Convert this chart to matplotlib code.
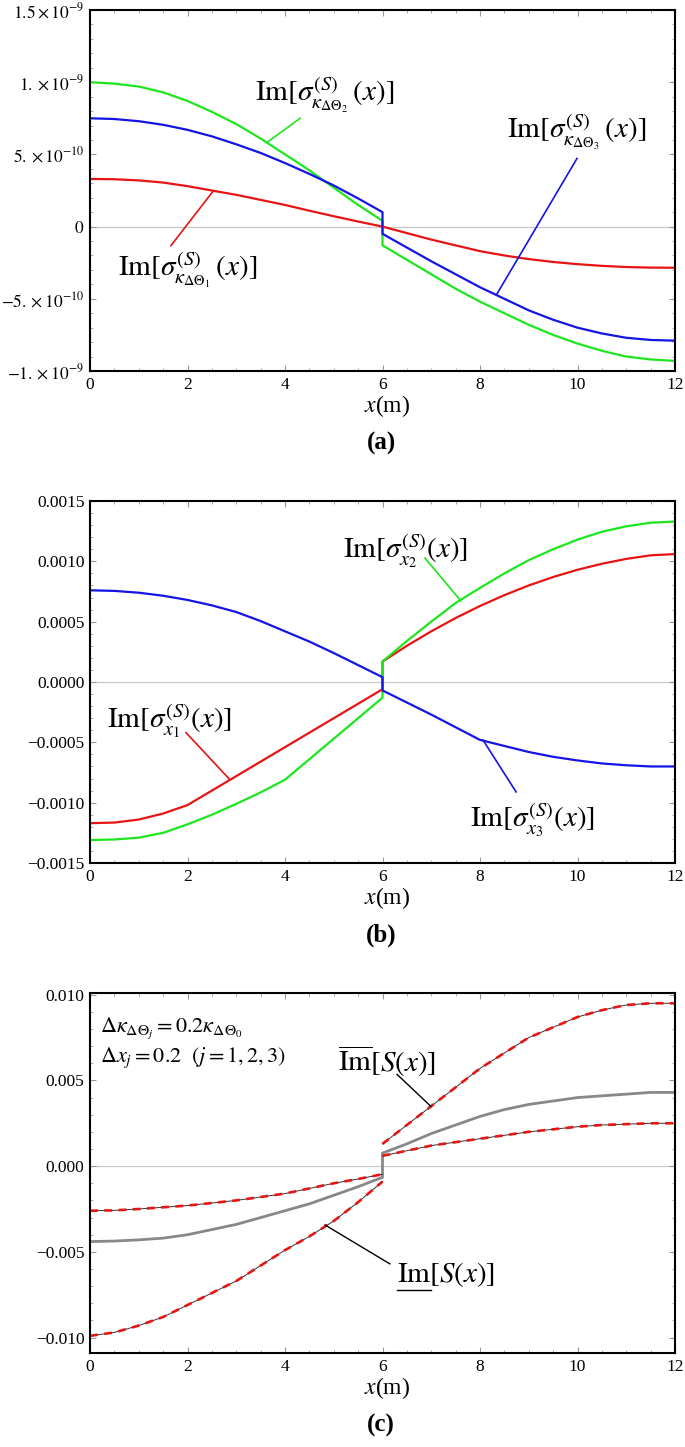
import numpy as np
import matplotlib
matplotlib.use("Agg")
import matplotlib.pyplot as plt
from matplotlib.ticker import MultipleLocator
from matplotlib.lines import Line2D

plt.rcParams['font.family'] = 'serif'
plt.rcParams['font.serif'] = ['Liberation Serif', 'DejaVu Serif']
plt.rcParams['mathtext.fontset'] = 'stix'

# ---------------- data ----------------
x_left = [0, 0.5, 1, 1.5, 2, 2.5, 3, 3.5, 4, 4.5, 5, 5.5, 6]
x_right = [6, 6.5, 7, 7.5, 8, 8.5, 9, 9.5, 10, 10.5, 11, 11.5, 12]

# panel (a), units 1e-9
a_red_l = [0.33, 0.328, 0.32, 0.305, 0.28, 0.25, 0.22, 0.185, 0.15, 0.11, 0.072, 0.035, 0.0]
a_red_r = [0.0, -0.045, -0.09, -0.13, -0.17, -0.20, -0.225, -0.245, -0.26, -0.272, -0.28, -0.284, -0.285]
a_green_l = [1.00, 0.99, 0.97, 0.93, 0.87, 0.795, 0.71, 0.61, 0.50, 0.39, 0.27, 0.15, 0.04]
a_green_r = [-0.13, -0.23, -0.33, -0.43, -0.52, -0.60, -0.68, -0.75, -0.81, -0.86, -0.90, -0.92, -0.93]
a_blue_l = [0.75, 0.745, 0.73, 0.705, 0.67, 0.625, 0.57, 0.51, 0.44, 0.365, 0.285, 0.195, 0.10]
a_blue_r = [-0.05, -0.145, -0.24, -0.33, -0.42, -0.50, -0.58, -0.645, -0.70, -0.74, -0.77, -0.785, -0.79]
a_yticks = [-1e-9, -5e-10, 0, 5e-10, 1e-9, 1.5e-9]
a_yticklabels = [r'$-1.\times10^{-9}$', r'$-5.\times10^{-10}$', r'$0$',
                 r'$5.\times10^{-10}$', r'$1.\times10^{-9}$', r'$1.5\times10^{-9}$']

# panel (b), units 1e-3
b_red_l = [-1.17, -1.165, -1.14, -1.09, -1.02, -0.90, -0.78, -0.66, -0.54, -0.42, -0.30, -0.18, -0.06]
b_red_r = [0.17, 0.30, 0.42, 0.53, 0.63, 0.72, 0.80, 0.87, 0.93, 0.98, 1.02, 1.05, 1.06]
b_green_l = [-1.31, -1.305, -1.29, -1.25, -1.18, -1.10, -1.01, -0.915, -0.81, -0.64, -0.47, -0.30, -0.13]
b_green_r = [0.17, 0.34, 0.50, 0.655, 0.78, 0.90, 1.01, 1.10, 1.18, 1.245, 1.29, 1.32, 1.33]
b_blue_l = [0.76, 0.755, 0.74, 0.715, 0.68, 0.635, 0.58, 0.505, 0.42, 0.335, 0.24, 0.14, 0.04]
b_blue_r = [-0.07, -0.17, -0.27, -0.375, -0.48, -0.53, -0.58, -0.62, -0.65, -0.675, -0.69, -0.70, -0.70]
b_yticks = [-0.0015, -0.0010, -0.0005, 0.0, 0.0005, 0.0010, 0.0015]
b_yticklabels = ['\u22120.0015', '\u22120.0010', '\u22120.0005', '0.0000', '0.0005', '0.0010', '0.0015']

# panel (c)
c_up_l = [-0.0026, -0.00258, -0.0025, -0.0024, -0.0023, -0.00215, -0.0020, -0.0018, -0.0016, -0.0013, -0.0010, -0.00075, -0.00047]
c_up_r = [0.0013, 0.0024, 0.0035, 0.0046, 0.0057, 0.0066, 0.0075, 0.0081, 0.0087, 0.0091, 0.0094, 0.0095, 0.0095]
c_lo_l = [-0.0099, -0.0097, -0.0093, -0.0088, -0.0081, -0.0074, -0.0067, -0.0058, -0.0049, -0.0041, -0.0032, -0.0021, -0.0009]
c_lo_r = [0.0006, 0.0009, 0.0012, 0.0014, 0.0016, 0.0018, 0.0020, 0.00215, 0.0023, 0.0024, 0.00245, 0.0025, 0.0025]
c_mid_l = [-0.0044, -0.00437, -0.0043, -0.0042, -0.0040, -0.0037, -0.0034, -0.0030, -0.0026, -0.0022, -0.0017, -0.0012, -0.00065]
c_mid_r = [0.00076, 0.0013, 0.0019, 0.0024, 0.0029, 0.0033, 0.0036, 0.0038, 0.0040, 0.0041, 0.0042, 0.0043, 0.0043]
c_yticks = [-0.010, -0.005, 0.0, 0.005, 0.010]
c_yticklabels = ['\u22120.010', '\u22120.005', '0.000', '0.005', '0.010']

x_ticks = [0, 2, 4, 6, 8, 10, 12]

RED = '#e81414'
GREEN = '#1ee61e'
BLUE = '#1414e6'
GRAY = '#888888'

W, H = 685, 1447
fig = plt.figure(figsize=(W / 100, H / 100), dpi=100)


def make_ax(top_px, bot_px):
    ax = fig.add_axes([90 / W, 1 - bot_px / H, 585 / W, (bot_px - top_px) / H])
    for s in ax.spines.values():
        s.set_linewidth(1.5)
        s.set_color('black')
    ax.tick_params(which='both', direction='in', top=True, right=True,
                   color='#999999', labelsize=12.5, pad=4)
    ax.tick_params(which='major', length=4, width=0.8)
    ax.tick_params(which='minor', length=2.2, width=0.6)
    ax.set_xlim(0, 12)
    ax.set_xticks(x_ticks)
    ax.xaxis.set_minor_locator(MultipleLocator(0.5))
    ax.axhline(0, color='#c8c8c8', lw=0.9, zorder=0)
    return ax


def bottom_labels(ax, bot_px, tag):
    fig.text(387 / W, 1 - (bot_px + 35) / H, r'$x$' + '(m)', fontsize=17,
             ha='center', va='center')
    fig.text(381 / W, 1 - (bot_px + 72) / H, tag, fontsize=18, fontweight='bold',
             ha='center', va='center')


# ---------------- panel (a) ----------------
ax = make_ax(10, 371)
sc = 1e-9
ax.plot(x_left + x_right, np.array(a_red_l + a_red_r) * sc, color=RED, lw=1.6)
ax.plot(x_left + x_right, np.array(a_green_l + a_green_r) * sc, color=GREEN, lw=1.6)
ax.plot(x_left + x_right, np.array(a_blue_l + a_blue_r) * sc, color=BLUE, lw=1.6)
ax.set_ylim(-1e-9, 1.5e-9)
ax.set_yticks(a_yticks)
ax.set_yticklabels(a_yticklabels)
ax.yaxis.set_minor_locator(MultipleLocator(1e-10))
fs = 21
ax.text(3.38, 0.875e-9, r'$\mathrm{Im}[\sigma^{(S)}_{\kappa_{\Delta\Theta_2}}\,(x)]$', fontsize=fs, va='baseline')
ax.plot([3.63, 4.31], [0.583e-9, 0.75e-9], color=GREEN, lw=1.2)
ax.text(8.55, 0.618e-9, r'$\mathrm{Im}[\sigma^{(S)}_{\kappa_{\Delta\Theta_3}}\,(x)]$', fontsize=fs, va='baseline')
ax.plot([8.35, 9.99], [-0.465e-9, 0.472e-9], color=BLUE, lw=1.2)
ax.text(0.574, -0.34e-9, r'$\mathrm{Im}[\sigma^{(S)}_{\kappa_{\Delta\Theta_1}}\,(x)]$', fontsize=fs, va='baseline')
ax.plot([2.52, 1.66], [0.243e-9, -0.132e-9], color=RED, lw=1.2)
bottom_labels(ax, 371, '(a)')

# ---------------- panel (b) ----------------
ax = make_ax(501, 863)
sc = 1e-3
ax.plot(x_left + x_right, np.array(b_red_l + b_red_r) * sc, color=RED, lw=1.6)
ax.plot(x_left + x_right, np.array(b_green_l + b_green_r) * sc, color=GREEN, lw=1.6)
ax.plot(x_left + x_right, np.array(b_blue_l + b_blue_r) * sc, color=BLUE, lw=1.6)
ax.set_ylim(-0.0015, 0.0015)
ax.set_yticks(b_yticks)
ax.set_yticklabels(b_yticklabels)
ax.yaxis.set_minor_locator(MultipleLocator(0.0001))
ax.text(5.19, 1.036e-3, r'$\mathrm{Im}[\sigma^{(S)}_{x_2}(x)]$', fontsize=fs, va='baseline')
ax.plot([6.87, 7.61], [1.027e-3, 0.671e-3], color=GREEN, lw=1.2)
ax.text(7.79, -1.20e-3, r'$\mathrm{Im}[\sigma^{(S)}_{x_3}(x)]$', fontsize=fs, va='baseline')
ax.plot([8.06, 8.74], [-0.48e-3, -0.911e-3], color=BLUE, lw=1.2)
ax.text(0.35, -0.373e-3, r'$\mathrm{Im}[\sigma^{(S)}_{x_1}(x)]$', fontsize=fs, va='baseline')
ax.plot([1.97, 2.87], [-0.42e-3, -0.81e-3], color=RED, lw=1.2)
bottom_labels(ax, 863, '(b)')

# ---------------- panel (c) ----------------
ax = make_ax(993, 1353)
ax.plot(x_left + x_right, c_mid_l + c_mid_r, color=GRAY, lw=2.0)
for xs, ys in ((x_left, c_up_l), (x_right, c_up_r), (x_left, c_lo_l), (x_right, c_lo_r)):
    ax.plot(xs, ys, color='#333333', lw=0.7)
    ax.plot(xs, ys, color=RED, lw=1.9, dashes=(3, 2.4))
ax.set_ylim(-0.0109, 0.0101)
ax.set_yticks(c_yticks)
ax.set_yticklabels(c_yticklabels)
ax.yaxis.set_minor_locator(MultipleLocator(0.001))
ax.text(0.205, 0.00785, r'$\Delta\kappa_{\Delta\Theta_j}=0.2\kappa_{\Delta\Theta_0}$', fontsize=16, va='baseline')
ax.text(0.205, 0.0061, r'$\Delta x_j=0.2\ \ (j=1,2,3)$', fontsize=16, va='baseline')
ax.text(5.09, 0.00552, r'$\overline{\mathrm{Im}}[S(x)]$', fontsize=fs, va='baseline')
ax.plot([6.30, 6.99], [0.00535, 0.00349], color='black', lw=1.0)
t_full = ax.text(6.3, -0.00674, r'$\mathrm{Im}[S(x)]$', fontsize=fs, va='baseline')
t_im = ax.text(6.3, -0.00674, r'$\mathrm{Im}$', fontsize=fs, va='baseline', alpha=0)
ax.plot([4.82, 6.15], [-0.00343, -0.0057], color='black', lw=1.0)
bottom_labels(ax, 1353, '(c)')

fig.canvas.draw()
bb = t_im.get_window_extent()
inv = fig.transFigure.inverted()
(x0, y0), (x1, _) = inv.transform([[bb.x0, bb.y0 - 2], [bb.x1, bb.y0]])
fig.add_artist(Line2D([x0, x1], [y0, y0], color='black', lw=1.0, transform=fig.transFigure))

fig.savefig('out.png', dpi=100)
